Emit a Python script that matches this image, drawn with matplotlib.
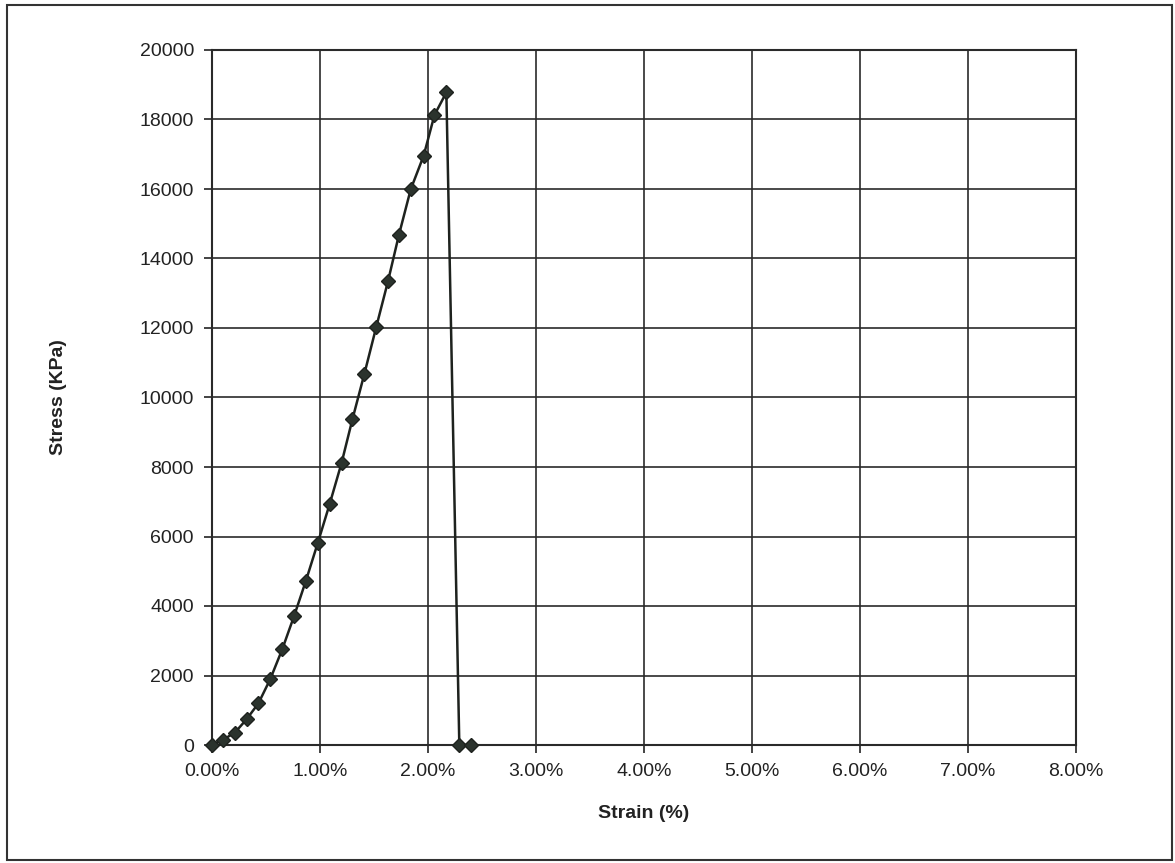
import numpy as np
import matplotlib.pyplot as plt
from matplotlib.ticker import FuncFormatter
from matplotlib.patches import Rectangle

plt.rcParams['font.family'] = ['Liberation Sans', 'DejaVu Sans']

# strain in %, stress in KPa
strain = [0.0, 0.10, 0.21, 0.32, 0.43, 0.54, 0.65, 0.76, 0.87, 0.98,
          1.09, 1.20, 1.30, 1.41, 1.52, 1.63, 1.73, 1.84, 1.96, 2.06,
          2.17, 2.29, 2.40]
stress = [0, 150, 350, 740, 1200, 1900, 2750, 3710, 4730, 5820,
          6940, 8120, 9370, 10670, 12020, 13350, 14670, 15990, 16960, 18130,
          18780, 0, 0]

x_ticks = [0, 1, 2, 3, 4, 5, 6, 7, 8]
y_ticks = [0, 2000, 4000, 6000, 8000, 10000, 12000, 14000, 16000, 18000, 20000]

fig = plt.figure(figsize=(11.75, 8.63), dpi=100)
ax = fig.add_axes([212/1175, 1 - 745/863, (1076 - 212)/1175, (745 - 50)/863])

ax.plot(strain, stress, color='#1e221e', linewidth=1.8, marker='D',
        markersize=7.5, markerfacecolor='#2b332d', markeredgecolor='#1e221e',
        clip_on=False, zorder=5)

ax.set_xlim(0, 8)
ax.set_ylim(0, 20000)
ax.set_xticks(x_ticks)
ax.set_yticks(y_ticks)
ax.xaxis.set_major_formatter(FuncFormatter(lambda v, p: f'{v:.2f}%'))
ax.tick_params(labelsize=14, length=6, width=1.2, color='#222', pad=7,
               labelcolor='#222')
ax.grid(True, color='#2a2a2a', linewidth=1.2)
ax.set_axisbelow(True)
for s in ax.spines.values():
    s.set_color('#2a2a2a')
    s.set_linewidth(1.5)

ax.set_xlabel('Strain (%)', fontsize=14, fontweight='bold', labelpad=18,
              color='#222')
ax.set_ylabel('Stress (KPa)', fontsize=14, fontweight='bold', labelpad=52,
              color='#222')

# outer frame of the chart
fig.patches.append(Rectangle((7/1175, 1 - 860/863), 1165/1175, 855/863,
                             transform=fig.transFigure, fill=False,
                             edgecolor='#333', linewidth=1.5))

fig.savefig('out.png', dpi=100)
